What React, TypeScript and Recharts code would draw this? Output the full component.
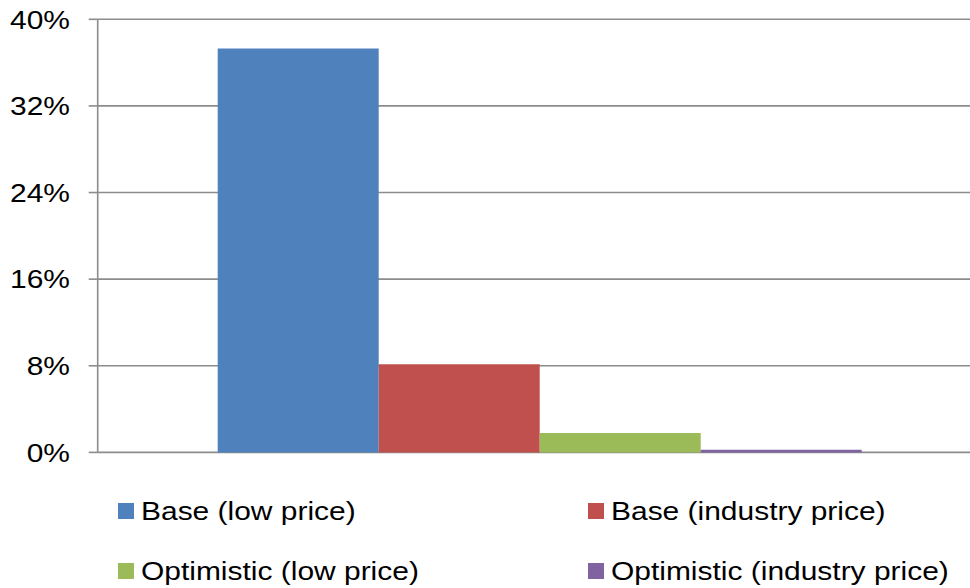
import React from "react";
import { BarChart, Bar, XAxis, YAxis, CartesianGrid } from "recharts";

const seriesNames = [
  "Base (low price)",
  "Base (industry price)",
  "Optimistic (low price)",
  "Optimistic (industry price)",
];
const seriesValues = [37.3, 8.15, 1.8, 0.25];
const seriesColors = ["#4F81BD", "#C0504D", "#9BBB59", "#8064A2"];
const yTicks = [0, 8, 16, 24, 32, 40];

const FONT = '"Liberation Sans", Arial, sans-serif';
const FONT_SIZE = 25.6;
const STRETCH = 1.17;
const GRID = "#8c8c8c";

const row: Record<string, string | number> = { name: "" };
seriesNames.forEach((_, i) => {
  row[`s${i}`] = seriesValues[i];
});
const data = [row];

const YTick = ({ x, y, payload }: any) => (
  <g transform={`translate(${x},${y}) scale(${STRETCH},1)`}>
    <text
      x={0}
      y={0}
      dy={9.3}
      textAnchor="end"
      fontFamily={FONT}
      fontSize={FONT_SIZE}
      fill="#000"
    >
      {`${payload.value}%`}
    </text>
  </g>
);

const legendCols = [118, 587.5];
const legendRows = [503, 563];

export default function App() {
  return (
    <div
      style={{
        position: "relative",
        width: 970,
        height: 588,
        overflow: "hidden",
        background: "#fff",
        fontFamily: FONT,
      }}
    >
      <style>{"html,body{margin:0;padding:0;overflow:hidden}"}</style>
      <BarChart
        width={981}
        height={588}
        data={data}
        margin={{ top: 19.3, right: 0, left: 0, bottom: 135.6 }}
        barCategoryGap={120}
        barGap={0}
      >
        <CartesianGrid
          horizontal
          vertical={false}
          stroke={GRID}
          strokeWidth={1.6}
        />
        <XAxis
          dataKey="name"
          height={0}
          tick={false}
          tickLine={false}
          axisLine={{ stroke: GRID, strokeWidth: 1.6 }}
        />
        <YAxis
          width={97.7}
          domain={[0, 40]}
          ticks={yTicks}
          interval={0}
          tickSize={9}
          tickMargin={18.7}
          tick={<YTick />}
          tickLine={{ stroke: GRID, strokeWidth: 1.6 }}
          axisLine={{ stroke: GRID, strokeWidth: 1.6 }}
        />
        {seriesNames.map((name, i) => (
          <Bar
            key={name}
            dataKey={`s${i}`}
            name={name}
            fill={seriesColors[i]}
            isAnimationActive={false}
          />
        ))}
      </BarChart>
      {seriesNames.map((name, i) => {
        const left = legendCols[i % 2];
        const top = legendRows[Math.floor(i / 2)];
        return (
          <div key={name}>
            <div
              style={{
                position: "absolute",
                left,
                top,
                width: 16,
                height: 16,
                background: seriesColors[i],
              }}
            />
            <div
              style={{
                position: "absolute",
                left: left + 23,
                top: top - 4,
                fontSize: FONT_SIZE,
                lineHeight: 1,
                whiteSpace: "nowrap",
                color: "#000",
                transform: `scaleX(${STRETCH})`,
                transformOrigin: "left top",
              }}
            >
              {name}
            </div>
          </div>
        );
      })}
    </div>
  );
}
